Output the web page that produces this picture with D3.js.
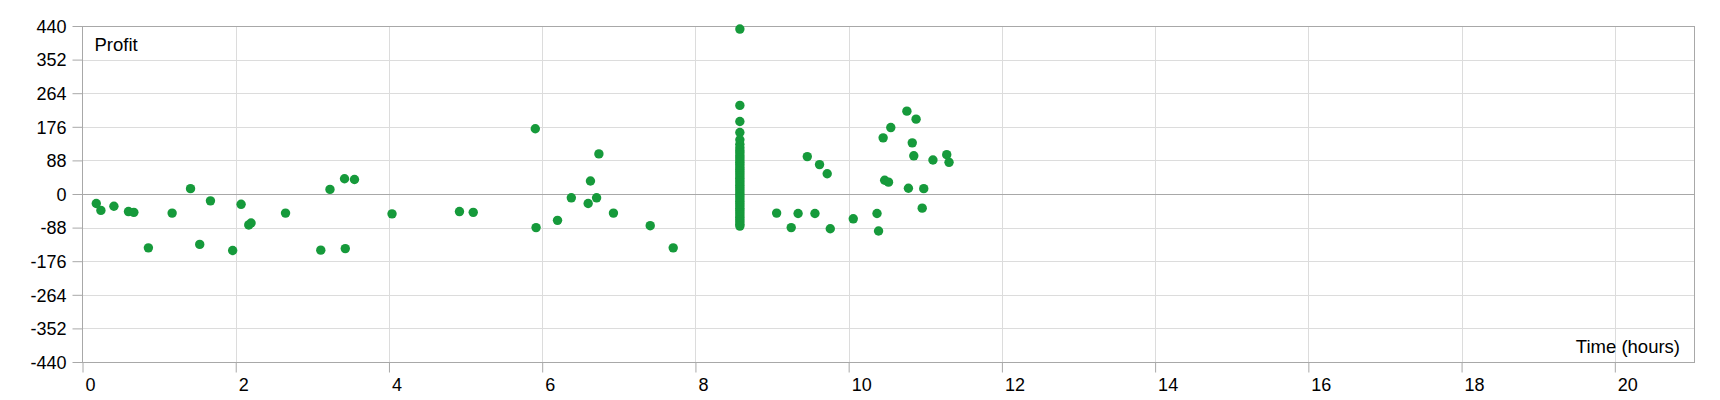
<!DOCTYPE html>
<html>
<head>
<meta charset="utf-8">
<script src="https://cdn.jsdelivr.net/npm/d3@7"></script>
<style>
  html, body { margin: 0; padding: 0; background: #fff; }
  svg { display: block; font-family: "Liberation Sans", Arial, sans-serif; }
</style>
</head>
<body>
<svg id="chart" width="1720" height="400"></svg>
<script>
// ---- data (time in hours, profit) ----
const timeHours = [
  0.18, 0.24, 0.41, 0.60, 0.67, 0.86, 1.17, 1.41, 1.53, 1.67, 1.96, 2.07, 2.17, 2.20, 2.65,
  3.11, 3.23, 3.42, 3.43, 3.55, 4.04, 4.92, 5.10, 5.91, 5.92, 6.20, 6.38, 6.60, 6.63, 6.71,
  6.74, 6.93, 7.41, 7.71,
  8.58, 8.58, 8.58, 8.58, 8.58, 8.58, 8.58, 8.58, 8.58, 8.58, 8.58, 8.58, 8.58, 8.58, 8.58,
  8.58, 8.58, 8.58, 8.58, 8.58, 8.58, 8.58, 8.58, 8.58, 8.58, 8.58, 8.58, 8.58, 8.58, 8.58,
  8.58, 8.58, 8.58, 8.58, 8.58, 8.58, 8.58, 8.58, 8.58, 8.58, 8.58,
  9.06, 9.25, 9.34, 9.46, 9.56, 9.62, 9.72, 9.76, 10.06, 10.37, 10.39, 10.45, 10.47, 10.52,
  10.55, 10.76, 10.78, 10.83, 10.85, 10.88, 10.96, 10.98, 11.10, 11.28, 11.31
];
const profit = [
  -25, -43, -32, -46, -48, -141, -50, 14, -132, -18, -148, -27, -81, -76, -50,
  -147, 12, 40, -143, 38, -52, -46, -48, 171, -88, -69, -10, -25, 34, -10,
  105, -50, -83, -141,
  432, 232, 190, 161, 142, 130, 121, 114, 108, 101, 95, 89, 83, 77, 71,
  65, 59, 53, 47, 41, 35, 29, 23, 17, 11, 5, -1, -7, -13, -19,
  -25, -31, -37, -43, -49, -55, -61, -67, -73, -79, -84,
  -50, -88, -51, 98, -51, 77, 53, -91, -65, -51, -97, 147, 36, 31,
  174, 217, 15, 134, 100, 196, -37, 14, 89, 103, 83
];
const yTicks = [-440, -352, -264, -176, -88, 0, 88, 176, 264, 352, 440];
const xTicks = [0, 2, 4, 6, 8, 10, 12, 14, 16, 18, 20];
const xLabel = "Time (hours)";
const yLabel = "Profit";

// ---- layout ----
const svg = d3.select("#chart");
const pLeft = 82.5, pTop = 26, pRight = 1694.5, pBottom = 362;
const x = d3.scaleLinear().domain([0, 21.04]).range([pLeft, pRight]);
const y = d3.scaleLinear().domain([-440, 440]).range([pBottom, pTop]);
const FONT = "Liberation Sans, Arial, sans-serif";

const grid = svg.append("g");
grid.selectAll("line.vx").data(xTicks.filter(d => d > 0)).join("line")
  .attr("x1", d => Math.round(x(d)) + 0.5).attr("x2", d => Math.round(x(d)) + 0.5)
  .attr("y1", pTop).attr("y2", pBottom)
  .attr("stroke", "#dcdcdc").attr("stroke-width", 1);
grid.selectAll("line.hy").data(yTicks).join("line")
  .attr("x1", pLeft).attr("x2", pRight)
  .attr("y1", d => Math.round(y(d)) + 0.5).attr("y2", d => Math.round(y(d)) + 0.5)
  .attr("stroke", d => d === 0 ? "#a8a8a8" : "#dcdcdc").attr("stroke-width", 1);

svg.append("rect")
  .attr("x", pLeft).attr("y", pTop + 0.5)
  .attr("width", pRight - pLeft).attr("height", pBottom - pTop)
  .attr("fill", "none").attr("stroke", "#a8a8a8").attr("stroke-width", 1);

const fmt = d => String(d);
const xAxis = d3.axisBottom(x).tickValues(xTicks).tickSize(10).tickFormat(fmt);
const gx = svg.append("g").attr("transform", `translate(0,${pBottom + 0.5})`).call(xAxis);
gx.select(".domain").remove();
gx.selectAll(".tick line").attr("stroke", "#a8a8a8");
gx.selectAll(".tick text")
  .attr("text-anchor", "start").attr("x", 2.5).attr("y", 28).attr("dy", null)
  .attr("font-size", 18).attr("fill", "#000").attr("font-family", FONT);

const yAxis = d3.axisLeft(y).tickValues(yTicks).tickSize(10).tickFormat(fmt);
const gy = svg.append("g").attr("transform", `translate(${pLeft},0)`).call(yAxis);
gy.select(".domain").remove();
gy.selectAll(".tick line").attr("stroke", "#a8a8a8");
gy.selectAll(".tick text")
  .attr("x", -16).attr("dy", "0.35em")
  .attr("font-size", 18).attr("fill", "#000").attr("font-family", FONT);

svg.append("text").attr("x", 94.5).attr("y", 50.7)
  .attr("font-size", 18.5).attr("fill", "#000").attr("font-family", FONT).text(yLabel);
svg.append("text").attr("x", 1680).attr("y", 352.5)
  .attr("text-anchor", "end").attr("font-size", 18.5).attr("fill", "#000").attr("font-family", FONT).text(xLabel);

const pts = timeHours.map((t, i) => ({ t, p: profit[i] }));
svg.append("g").selectAll("circle").data(pts).join("circle")
  .attr("cx", d => x(d.t)).attr("cy", d => y(d.p))
  .attr("r", 4.7).attr("fill", "#169a3b");
</script>
</body>
</html>
